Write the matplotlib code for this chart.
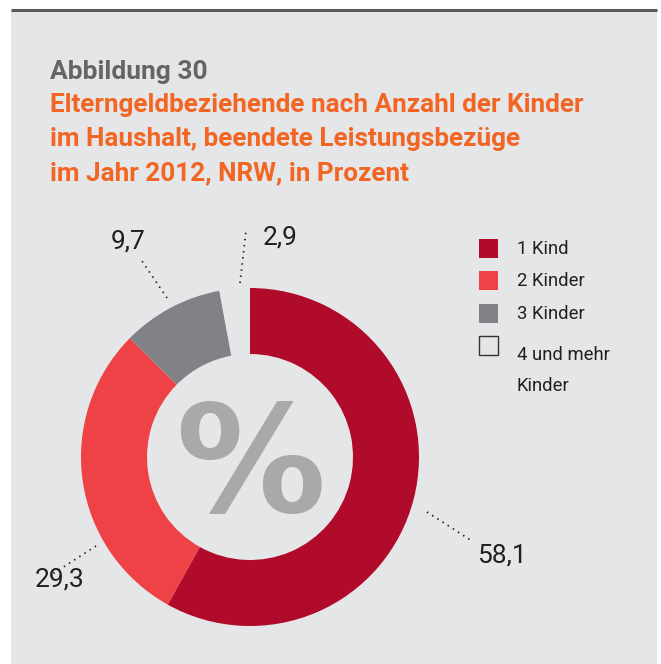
import matplotlib.pyplot as plt
from matplotlib.patches import Rectangle

# data
labels = ["1 Kind", "2 Kinder", "3 Kinder", "4 und mehr\nKinder"]
values = [58.1, 29.3, 9.7, 2.9]
value_text = ["58,1", "29,3", "9,7", "2,9"]
colors = ["#b00b2a", "#ef4247", "#808285", "#e5e6e8"]

BG = "#e5e6e8"
W, H = 661, 664


def Y(y):
    # pixel rows from the top -> data y
    return H - y


fig = plt.figure(figsize=(6.61, 6.64), dpi=100)
fig.patch.set_facecolor("white")
ax = fig.add_axes([0, 0, 1, 1])

cx, cy, R, ring = 250, Y(457), 169, 66
ax.pie(values, colors=colors, startangle=90, counterclock=False,
       center=(cx, cy), radius=R,
       wedgeprops=dict(width=ring, linewidth=0))

ax.set_xlim(0, W)
ax.set_ylim(0, H)
ax.set_aspect("equal")
ax.axis("off")

# grey panel and top rule
ax.add_patch(Rectangle((11, 0), 646, Y(10), facecolor=BG, edgecolor="none", zorder=-5))
ax.plot([11, 657], [Y(10), Y(10)], color="#5a5b5d", lw=2.2, zorder=-4,
        solid_capstyle="butt")

# titles
ax.text(50, Y(72), "Abbildung 30", fontsize=19, fontweight="bold",
        color="#646567", family="Roboto", va="center")
title_lines = ["Elterngeldbeziehende nach Anzahl der Kinder",
               "im Haushalt, beendete Leistungsbezüge",
               "im Jahr 2012, NRW, in Prozent"]
for i, line in enumerate(title_lines):
    ax.text(50, Y(105 + 34 * i), line, fontsize=18.8, fontweight="bold",
            color="#f26522", family="Roboto", va="center")

# centre sign
ax.text(cx, Y(471), "%", fontsize=108, fontweight="bold", color="#a8a9ab",
        family="DejaVu Sans", ha="center", va="center")

# value labels with dotted leaders
label_pos = [(502, 555), (60, 579), (128, 242), (280, 237)]
leaders = [((427, 512), (472, 541)), ((96, 546), (51, 575)),
           ((167, 298), (142, 261)), ((240, 283), (246, 231))]
for txt, (tx, ty), (p0, p1) in zip(value_text, label_pos, leaders):
    ax.text(tx, Y(ty), txt, fontsize=19, color="#231f20", family="Roboto",
            ha="center", va="center")
    ax.plot([p0[0], p1[0]], [Y(p0[1]), Y(p1[1])], color="#231f20", lw=1.3,
            linestyle=(0, (0.8, 2.6)))

# legend
for i, (lab, col) in enumerate(zip(labels, colors)):
    top = 239 + 32.3 * i
    edge = "#333333" if col == BG else "none"
    ax.add_patch(Rectangle((479, Y(top + 19)), 19, 19, facecolor=col,
                           edgecolor=edge, lw=1.0))
    ax.text(517, Y(top + 10), lab, fontsize=13.3, color="#231f20",
            family="Roboto", va="top" if "\n" in lab else "center",
            linespacing=1.95)

fig.savefig("out.png", dpi=100, facecolor="white")
